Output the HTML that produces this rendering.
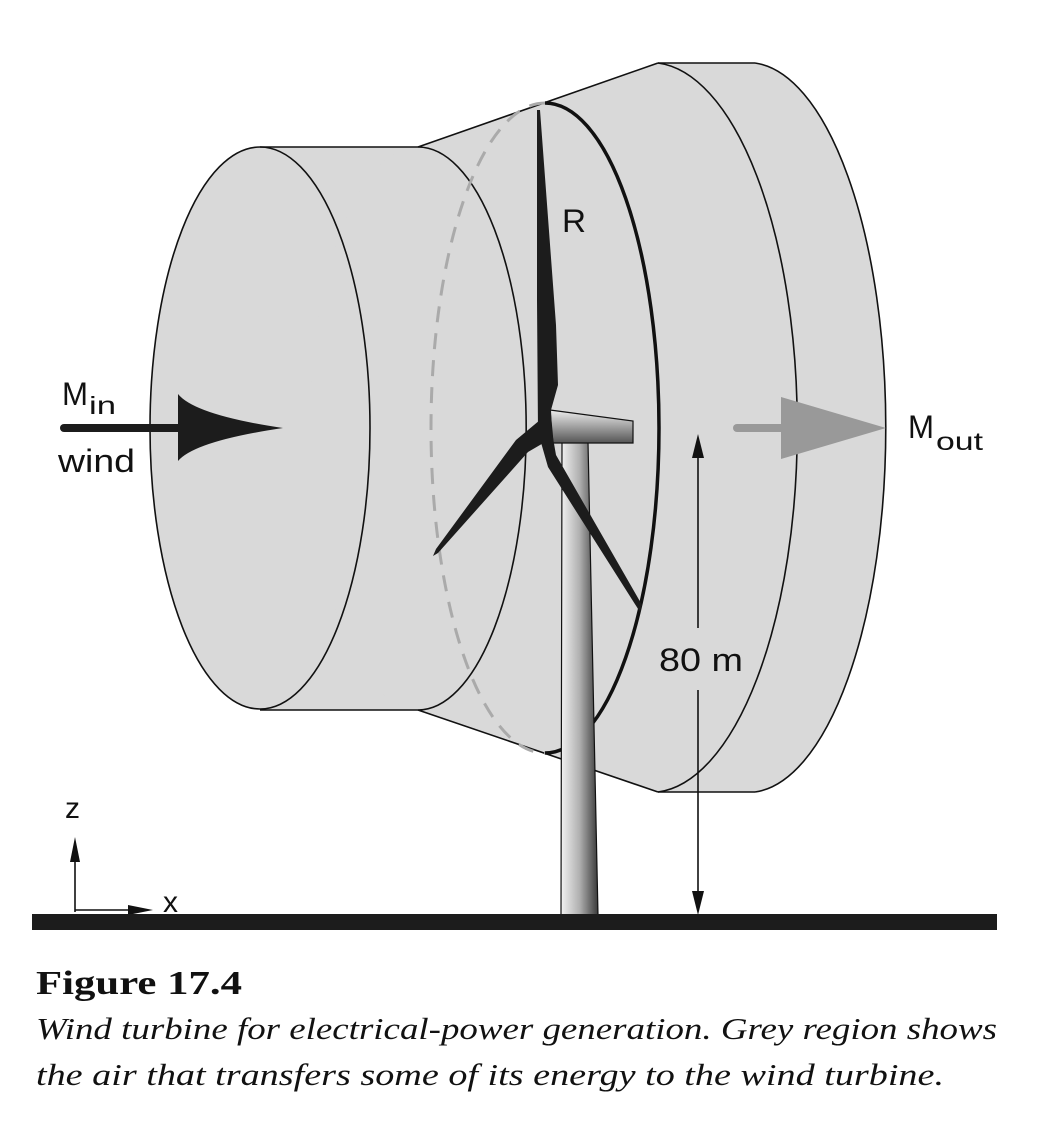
<!DOCTYPE html>
<html><head><meta charset="utf-8"><style>
html,body{margin:0;padding:0;background:#fff;}
svg{display:block;}
</style></head><body>
<svg width="1048" height="1138" viewBox="0 0 1048 1138" xmlns="http://www.w3.org/2000/svg">
<defs>
<linearGradient id="tw" x1="0" x2="1" y1="0" y2="0">
<stop offset="0" stop-color="#f2f2f2"/><stop offset="0.5" stop-color="#b0b0b0"/><stop offset="1" stop-color="#3a3a3a"/>
</linearGradient>
<linearGradient id="nc" x1="0" x2="0" y1="0" y2="1">
<stop offset="0" stop-color="#eeeeee"/><stop offset="1" stop-color="#555"/>
</linearGradient>
</defs>
<g fill="#d9d9d9" stroke="none">
<ellipse cx="260" cy="428" rx="110" ry="281"/>
<rect x="260" y="147" width="158" height="563"/>
<ellipse cx="418" cy="428" rx="108" ry="281"/>
<polygon points="418,147 658,63 658,792 418,710"/>
<path d="M658,63 L755,63 A138,365 0 0 1 755,792 L658,792 Z"/>
</g>
<g fill="none" stroke="#111" stroke-width="1.6">
<ellipse cx="260" cy="428" rx="110" ry="281"/>
<line x1="260" y1="147" x2="418" y2="147"/>
<line x1="260" y1="710" x2="418" y2="710"/>
<path d="M418,147 A108,281 0 0 1 418,710"/>
<line x1="418" y1="147" x2="658" y2="63"/>
<line x1="418" y1="710" x2="658" y2="792"/>
<path d="M658,63 A147,365 0 0 1 658,792"/>
<line x1="658" y1="63" x2="755" y2="63"/>
<line x1="658" y1="792" x2="755" y2="792"/>
<path d="M755,63 A138,365 0 0 1 755,792"/>
</g>
<path d="M545,103 A114,325 0 0 0 545,753" fill="none" stroke="#aaa" stroke-width="3" stroke-dasharray="16,11"/>
<path d="M545,103 A114,325 0 0 1 545,753" fill="none" stroke="#111" stroke-width="3.5"/>
<polygon points="562,442 588,442 598,915 561,915" fill="url(#tw)" stroke="#111" stroke-width="1.2"/>
<polygon points="550,410 633,421 633,443 553,443" fill="url(#nc)" stroke="#111" stroke-width="1.2"/>
<g fill="#1c1c1c">
<polygon points="537,110 540,110 556,325 558,385 551,410 552,432 538,432 537,300"/>
<polygon points="540,420 552,438 528,452 438,553 433,556 436,549 516,440"/>
<polygon points="538,432 552,432 556,455 642,605 640,612 548,467"/>
</g>
<line x1="64" y1="428" x2="185" y2="428" stroke="#1c1c1c" stroke-width="8" stroke-linecap="round"/>
<path d="M178,394 Q195,415 283,428 Q195,441 178,461 Z" fill="#1c1c1c"/>
<line x1="737" y1="428" x2="785" y2="428" stroke="#999" stroke-width="8" stroke-linecap="round"/>
<path d="M781,397 L781,459 L886,428 Z" fill="#999"/>
<line x1="698" y1="450" x2="698" y2="628" stroke="#111" stroke-width="1.6"/>
<line x1="698" y1="690" x2="698" y2="900" stroke="#111" stroke-width="1.6"/>
<polygon points="698,434 692,458 704,458" fill="#111"/>
<polygon points="698,915 692,891 704,891" fill="#111"/>
<line x1="75" y1="912" x2="75" y2="855" stroke="#111" stroke-width="1.6"/>
<polygon points="75,837 70,862 80,862" fill="#111"/>
<line x1="75" y1="910" x2="135" y2="910" stroke="#111" stroke-width="1.6"/>
<polygon points="153,910 128,905 128,915" fill="#111"/>
<rect x="32" y="914" width="965" height="16" fill="#1c1c1c"/>
<g font-family="Liberation Sans, sans-serif" fill="#111">
<text x="62" y="405" font-size="32" textLength="26" lengthAdjust="spacingAndGlyphs">M</text>
<text x="89" y="414" font-size="25" textLength="27" lengthAdjust="spacingAndGlyphs">in</text>
<text x="58" y="472" font-size="32" textLength="77" lengthAdjust="spacingAndGlyphs">wind</text>
<text x="908" y="438" font-size="32" textLength="26" lengthAdjust="spacingAndGlyphs">M</text>
<text x="936" y="450" font-size="25" textLength="47" lengthAdjust="spacingAndGlyphs">out</text>
<text x="562" y="232" font-size="32" textLength="24" lengthAdjust="spacingAndGlyphs">R</text>
<text x="659" y="671" font-size="32" textLength="84" lengthAdjust="spacingAndGlyphs">80 m</text>
<text x="65" y="818" font-size="30">z</text>
<text x="163" y="912" font-size="30">x</text>
</g>
<g font-family="Liberation Serif, serif" fill="#111">
<text x="36" y="994" font-size="34" font-weight="bold" textLength="206" lengthAdjust="spacingAndGlyphs">Figure 17.4</text>
<text x="36" y="1039" font-size="31" font-style="italic" textLength="961" lengthAdjust="spacingAndGlyphs">Wind turbine for electrical-power generation. Grey region shows</text>
<text x="36" y="1085" font-size="31" font-style="italic" textLength="908" lengthAdjust="spacingAndGlyphs">the air that transfers some of its energy to the wind turbine.</text>
</g>
</svg>
</body></html>
